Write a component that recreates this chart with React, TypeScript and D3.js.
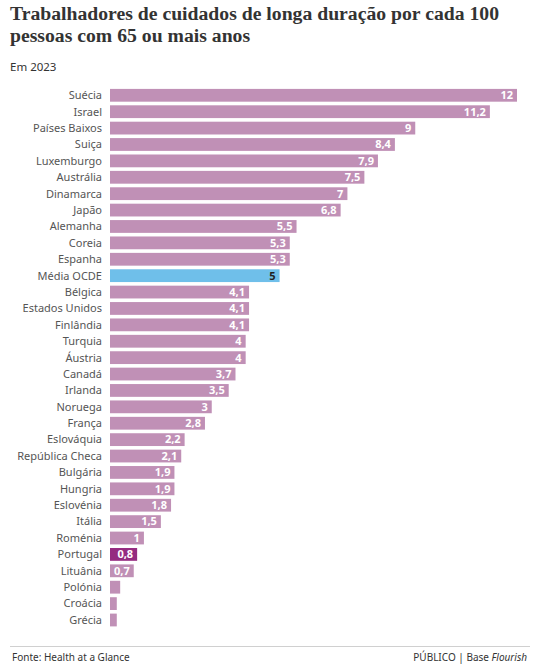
import React from "react";
import * as d3 from "d3";

const countries = [
  "Suécia", "Israel", "Países Baixos", "Suiça", "Luxemburgo", "Austrália", "Dinamarca", "Japão",
  "Alemanha", "Coreia", "Espanha", "Média OCDE", "Bélgica", "Estados Unidos", "Finlândia", "Turquia",
  "Áustria", "Canadá", "Irlanda", "Noruega", "França", "Eslováquia", "República Checa", "Bulgária",
  "Hungria", "Eslovénia", "Itália", "Roménia", "Portugal", "Lituânia", "Polónia", "Croácia", "Grécia",
];
const values = [
  12, 11.2, 9, 8.4, 7.9, 7.5, 7, 6.8,
  5.5, 5.3, 5.3, 5, 4.1, 4.1, 4.1, 4,
  4, 3.7, 3.5, 3, 2.8, 2.2, 2.1, 1.9,
  1.9, 1.8, 1.5, 1, 0.8, 0.7, 0.3, 0.2, 0.2,
];
const showLabel = values.map((v) => v >= 0.5);

const W = 550;
const H = 664;
const sans = "'Noto Sans', 'Open Sans', sans-serif";
const serif = "'Liberation Serif', 'DejaVu Serif', serif";

export default function App() {
  const x = d3.scaleLinear().domain([0, 12]).range([110, 517]);
  const y = d3.scaleBand<string>().domain(countries).range([87.1, 628.2]).paddingInner(0.22).paddingOuter(0.11);
  const fmt = (v: number) => String(v).replace(".", ",");
  const colorOf = (c: string) =>
    c === "Portugal" ? "#952b80" : c === "Média OCDE" ? "#6fbfea" : "#c090b6";

  return (
    <svg width={W} height={H} style={{ position: "absolute", left: 0, top: 0 }}>
      <rect width={W} height={H} fill="#fff" />
      <text x={10} y={20} fontFamily={serif} fontWeight={700} fontSize={19.7} fill="#333">
        Trabalhadores de cuidados de longa duração por cada 100
      </text>
      <text x={10} y={42} fontFamily={serif} fontWeight={700} fontSize={19.7} fill="#333">
        pessoas com 65 ou mais anos
      </text>
      <text x={10} y={71} fontFamily={sans} fontSize={11.5} fill="#333">Em 2023</text>

      {countries.map((c, i) => {
        const yy = y(c)!;
        const bw = y.bandwidth();
        const v = values[i];
        return (
          <g key={c}>
            <text x={102} y={yy + bw / 2} dy="0.35em" textAnchor="end" fontFamily={sans} fontSize={11} fill="#555">
              {c}
            </text>
            <rect x={x(0)} y={yy} width={x(v) - x(0)} height={bw} fill={colorOf(c)} />
            {showLabel[i] && (
              <text
                x={x(v) - 4}
                y={yy + bw / 2}
                dy="0.35em"
                textAnchor="end"
                fontFamily={sans}
                fontWeight={700}
                fontSize={11}
                fill={c === "Média OCDE" ? "#222" : "#fff"}
              >
                {fmt(v)}
              </text>
            )}
          </g>
        );
      })}

      <line x1={10} x2={530} y1={646.5} y2={646.5} stroke="#d0d0d0" strokeWidth={1} />
      <text x={12} y={661} fontFamily={sans} fontSize={10} fill="#333">Fonte: Health at a Glance</text>
      <text x={527} y={661} textAnchor="end" fontFamily={sans} fontSize={10} fill="#333">
        PÚBLICO | Base <tspan fontStyle="italic">Flourish</tspan>
      </text>
    </svg>
  );
}
